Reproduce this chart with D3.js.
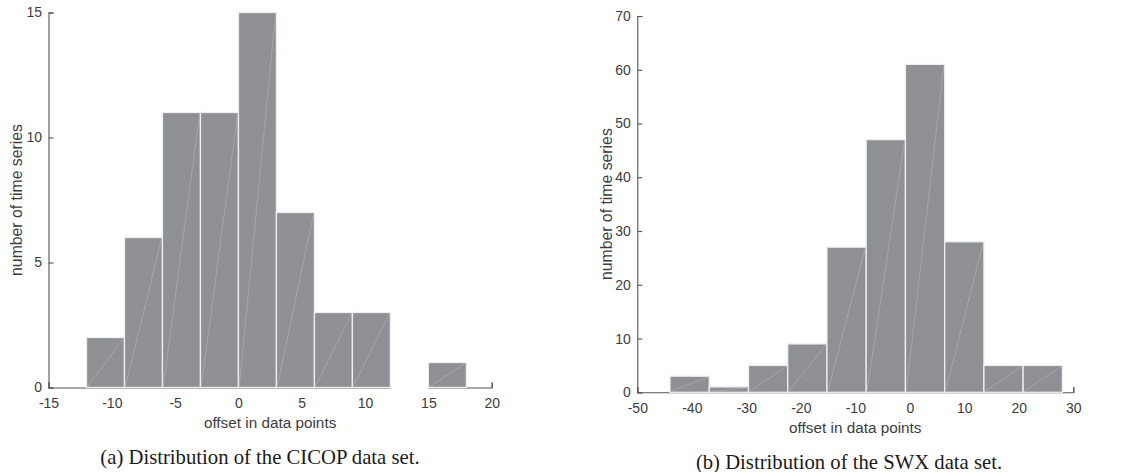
<!DOCTYPE html>
<html>
<head>
<meta charset="utf-8">
<script src="https://cdn.jsdelivr.net/npm/d3@7/dist/d3.min.js"></script>
<style>
  html, body { margin: 0; padding: 0; background: #ffffff; }
  svg { display: block; }
</style>
</head>
<body>
<svg id="chart" width="1129" height="472"></svg>
<script>
// ---- data ----
const cicopEdges  = [-12, -9, -6, -3, 0, 3, 6, 9, 12, 15, 18];
const cicopCounts = [2, 6, 11, 11, 15, 7, 3, 3, 0, 1];
const cicopXTicks = [-15, -10, -5, 0, 5, 10, 15, 20];
const cicopYTicks = [0, 5, 10, 15];

const swxEdges  = [-44, -36.8, -29.6, -22.4, -15.2, -8, -0.8, 6.4, 13.6, 20.8, 28];
const swxCounts = [3, 1, 5, 9, 27, 47, 61, 28, 5, 5];
const swxXTicks = [-50, -40, -30, -20, -10, 0, 10, 20, 30];
const swxYTicks = [0, 10, 20, 30, 40, 50, 60, 70];

const xTitle = "offset in data points";
const yTitle = "number of time series";
const captionA = "(a) Distribution of the CICOP data set.";
const captionB = "(b) Distribution of the SWX data set.";

// ---- drawing ----
const svg = d3.select("#chart");
const BAR_FILL = "#8f9094";
const BAR_EDGE = "#eeeeee";
const AXIS_COL = "#555555";
const TEXT_COL = "#3c3c3c";
const SANS = "'Liberation Sans', Arial, Helvetica, sans-serif";
const SERIF = "'Liberation Serif', 'Times New Roman', serif";
const fmt = d => String(d);   // plain hyphen-minus, as in the reference

function drawPanel(cfg) {
  const x = d3.scaleLinear().domain(cfg.xDomain).range(cfg.xRange);
  const y = d3.scaleLinear().domain(cfg.yDomain).range(cfg.yRange);
  const g = svg.append("g");

  // axes (drawn first so bars cover interior ticks as in the reference)
  const xAxis = d3.axisBottom(x).tickValues(cfg.xTicks).tickFormat(fmt)
      .tickSizeInner(-5).tickSizeOuter(-5).tickPadding(10.5);
  const yAxis = d3.axisLeft(y).tickValues(cfg.yTicks).tickFormat(fmt)
      .tickSizeInner(-5).tickSizeOuter(-5).tickPadding(6.5);

  const gx = g.append("g").attr("transform", `translate(0,${cfg.yRange[0]})`).call(xAxis);
  const gy = g.append("g").attr("transform", `translate(${cfg.xRange[0]},0)`).call(yAxis);
  [gx, gy].forEach(a => {
    a.selectAll("path, line").attr("stroke", AXIS_COL).attr("stroke-width", 1.1);
    a.selectAll("text").attr("fill", TEXT_COL).style("font-family", SANS).style("font-size", "14px");
  });

  // bars
  const bins = cfg.counts.map((c, i) => ({ x0: cfg.edges[i], x1: cfg.edges[i + 1], c }));
  const filled = bins.filter(d => d.c > 0);
  const empty = bins.filter(d => d.c === 0);
  const bars = g.append("g");
  bars.selectAll("rect").data(filled).join("rect")
    .attr("x", d => x(d.x0))
    .attr("y", d => y(d.c))
    .attr("width", d => x(d.x1) - x(d.x0))
    .attr("height", d => y(0) - y(d.c))
    .attr("fill", BAR_FILL)
    .attr("stroke", BAR_EDGE)
    .attr("stroke-width", 1.3);
  // empty bins: zero-height bar whose light edge hides the axis line
  bars.selectAll("line.empty").data(empty).join("line")
    .attr("class", "empty")
    .attr("x1", d => x(d.x0)).attr("x2", d => x(d.x1))
    .attr("y1", y(0) + 0.5).attr("y2", y(0) + 0.5)
    .attr("stroke", "#ffffff").attr("stroke-width", 3);
  // faint diagonal rendering seams inside bars
  bars.selectAll("line.seam").data(filled).join("line")
    .attr("class", "seam")
    .attr("x1", d => x(d.x0) + 0.8).attr("y1", d => y(0) - 0.8)
    .attr("x2", d => x(d.x1) - 0.8).attr("y2", d => y(d.c) + 0.8)
    .attr("stroke", "#b4b4b8").attr("stroke-width", 0.6);

  // axis titles
  g.append("text")
    .attr("x", (cfg.xRange[0] + cfg.xRange[1]) / 2)
    .attr("y", cfg.yRange[0] + 40.8)
    .attr("text-anchor", "middle")
    .attr("fill", TEXT_COL).style("font-family", SANS).style("font-size", "15.3px")
    .text(xTitle);
  g.append("text")
    .attr("transform", `translate(${cfg.yTitleX},${(cfg.yRange[0] + cfg.yRange[1]) / 2}) rotate(-90)`)
    .attr("text-anchor", "middle")
    .attr("fill", TEXT_COL).style("font-family", SANS).style("font-size", "15.8px")
    .text(yTitle);

  // caption
  g.append("text")
    .attr("x", cfg.captionX).attr("y", cfg.captionY)
    .attr("text-anchor", "middle")
    .attr("fill", "#1a1a1a").style("font-family", SERIF).style("font-size", "20.7px")
    .text(cfg.caption);
}

drawPanel({
  edges: cicopEdges, counts: cicopCounts, xTicks: cicopXTicks, yTicks: cicopYTicks,
  xDomain: [-15, 20], yDomain: [0, 15],
  xRange: [48.5, 491.7], yRange: [387.5, 12.5],
  yTitleX: 22, caption: captionA, captionX: 260, captionY: 463.5
});
drawPanel({
  edges: swxEdges, counts: swxCounts, xTicks: swxXTicks, yTicks: swxYTicks,
  xDomain: [-50, 30], yDomain: [0, 70],
  xRange: [637.3, 1073.3], yRange: [392.3, 16],
  yTitleX: 612, caption: captionB, captionX: 849, captionY: 469
});
</script>
</body>
</html>
